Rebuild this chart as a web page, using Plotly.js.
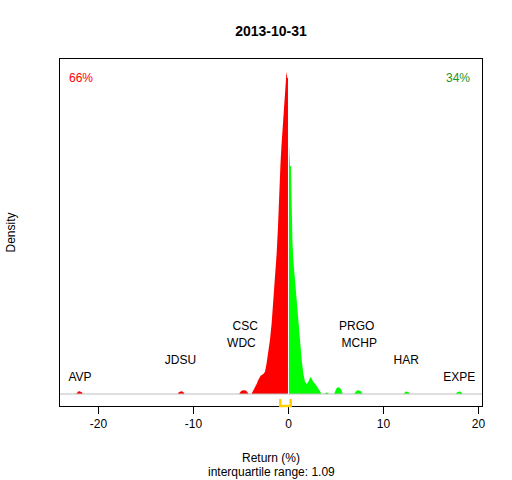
<!DOCTYPE html>
<html><head><meta charset="utf-8">
<script src="https://cdn.plot.ly/plotly-3.0.1.min.js"></script>
<style>body{margin:0;background:#fff}#c{width:512px;height:480px}</style>
</head><body><div id="c"></div><script>
const chartTitle = "2013-10-31";
const xAxisTitle = "Return (%)";
const yAxisTitle = "Density";
const iqrText = "interquartile range: 1.09";
const shareDown = "66%";
const shareUp = "34%";
const tickVals = [-20, -10, 0, 10, 20];
const tickText = ["-20", "-10", "0", "10", "20"];

// density (left of zero, red)
const redX = [-22.35,-22.25,-22.14,-22.0,-21.86,-21.75,-21.65,
  -11.65,-11.55,-11.44,-11.3,-11.16,-11.05,-10.95,
  -5.2,-5.05,-4.9,-4.7,-4.5,-4.35,-4.2,
  -3.9,-3.7,-3.53,-3.35,-3.18,
  -2.93,-2.65,-2.47,-2.3,-2.12,-1.95,-1.77,-1.6,-1.42,-1.25,
  -1.1,-0.98,-0.84,-0.74,-0.63,-0.53,-0.42,-0.32,-0.21,-0.12,0];
const redY = [0,0.0017,0.0025,0.0028,0.0025,0.0017,0,
  0,0.0017,0.0025,0.0028,0.0025,0.0017,0,
  0,0.0023,0.0034,0.0038,0.0034,0.0023,0,
  0,0.0033,0.0067,0.010,0.014,
  0.0183,0.020,0.0223,0.031,0.041,0.054,0.071,0.0907,0.114,0.14,
  0.168,0.207,0.2307,0.248,0.2623,0.2823,0.298,0.310,0.3223,0.316,0.316];

// density (right of zero, green)
const greenX = [0.03,0.16,0.26,0.3,0.36,0.42,0.51,0.68,0.86,1.03,
  1.21,1.39,1.56,1.74,1.92,2.08,2.33,2.61,2.9,3.14,
  3.32,3.5,
  3.75,3.85,4.0,4.15,4.25,
  4.8,4.93,5.07,5.25,5.43,5.57,5.7,
  6.9,7.03,7.17,7.35,7.53,7.67,7.8,
  12.12,12.21,12.31,12.44,12.57,12.67,12.76,
  17.6,17.72,17.83,17.98,18.13,18.24,18.36];
const greenY = [0.254,0.228,0.228,0.203,0.203,0.151,0.134,0.114,0.0973,0.0773,
  0.054,0.034,0.0207,0.0123,0.010,0.0123,0.0173,0.0123,0.009,0.0057,
  0.0023,0,
  0,0.001,0.0015,0.001,0,
  0,0.004,0.006,0.0067,0.006,0.004,0,
  0,0.0022,0.0033,0.0037,0.0033,0.0022,0,
  0,0.0015,0.0023,0.0025,0.0023,0.0015,0,
  0,0.0015,0.0023,0.0025,0.0023,0.0015,0];

// outlier labels
const labelNames = ["AVP","JDSU","WDC","CSC","PRGO","MCHP","HAR","EXPE"];
const labelReturns = [-21.95,-11.37,-4.95,-4.56,7.18,7.45,12.4,17.98];
const labelLevels = [1,2,3,4,4,3,2,1];

const quartiles = [-0.86, 0.23];

const FONT = "Liberation Sans, Arial, sans-serif";
const levelStep = 0.017, levelBase = -0.001;

const traces = [
  {x: redX, y: redY, type: 'scatter', mode: 'lines', fill: 'tozeroy',
   fillcolor: '#FF0000', line: {width: 0, color: '#FF0000'}, hoverinfo: 'skip'},
  {x: greenX, y: greenY, type: 'scatter', mode: 'lines', fill: 'tozeroy',
   fillcolor: '#00FF00', line: {width: 0, color: '#00FF00'}, hoverinfo: 'skip'},
  {x: labelReturns, y: labelLevels.map(l => levelBase + l * levelStep),
   text: labelNames, type: 'scatter', mode: 'text', textposition: 'middle center',
   textfont: {family: FONT, size: 12, color: '#000'}, hoverinfo: 'skip', cliponaxis: false}
];

const q1 = quartiles[0], q3 = quartiles[1];
const bh = 7 / 347;

const layout = {
  width: 512, height: 480,
  margin: {l: 60, r: 30, t: 59, b: 74, pad: 0, autoexpand: false},
  paper_bgcolor: '#fff', plot_bgcolor: '#fff',
  showlegend: false, hovermode: false,
  font: {family: FONT, size: 12, color: '#000'},
  title: {text: chartTitle, font: {family: FONT, size: 14, weight: 'bold', color: '#000'},
          x: 0.5, xref: 'paper', xanchor: 'center', y: 1 - 31/480, yref: 'container', yanchor: 'middle'},
  xaxis: {range: [-24.05, 20.37], showgrid: false, zeroline: false,
          showline: true, linecolor: '#000', linewidth: 1, mirror: true,
          ticks: 'outside', ticklen: 7, tickwidth: 1, tickcolor: '#000',
          tickvals: tickVals, ticktext: tickText,
          tickfont: {family: FONT, size: 12, color: '#000'}},
  yaxis: {range: [-0.012, 0.335], showgrid: false, zeroline: false,
          showline: true, linecolor: '#000', linewidth: 1, mirror: true,
          ticks: '', showticklabels: false},
  shapes: [
    {type: 'line', xref: 'paper', yref: 'y', x0: 0, x1: 1, y0: 0, y1: 0,
     line: {color: '#BEBEBE', width: 1}, layer: 'above'},
    {type: 'line', xref: 'x', yref: 'y', x0: 0, x1: 0, y0: 0, y1: 0.33,
     line: {color: '#FFFFFF', width: 1}, layer: 'above'},
    {type: 'path', xref: 'x', yref: 'paper',
     path: `M ${q1},${bh} L ${q1},0 L ${q3},0 L ${q3},${bh}`,
     line: {color: '#FFD000', width: 2.5}, layer: 'above'}
  ],
  annotations: [
    {text: shareDown, xref: 'paper', yref: 'paper', x: 0, y: 1, xanchor: 'left', yanchor: 'middle',
     xshift: 7, yshift: -19, showarrow: false, font: {family: FONT, size: 12, color: '#FF0000'}},
    {text: shareUp, xref: 'paper', yref: 'paper', x: 1, y: 1, xanchor: 'right', yanchor: 'middle',
     xshift: -10, yshift: -19, showarrow: false, font: {family: FONT, size: 12, color: '#1E961E'}},
    {text: yAxisTitle, xref: 'paper', yref: 'paper', x: 0, y: 0.5, xanchor: 'center', yanchor: 'middle',
     xshift: -50, textangle: -90, showarrow: false, font: {family: FONT, size: 12, color: '#000'}},
    {text: xAxisTitle, xref: 'paper', yref: 'paper', x: 0.5, y: 0, xanchor: 'center', yanchor: 'middle',
     yshift: -52, showarrow: false, font: {family: FONT, size: 12, color: '#000'}},
    {text: iqrText, xref: 'paper', yref: 'paper', x: 0.5, y: 0, xanchor: 'center', yanchor: 'middle',
     yshift: -66, showarrow: false, font: {family: FONT, size: 12, color: '#000'}}
  ]
};

Plotly.newPlot('c', traces, layout, {staticPlot: true, displayModeBar: false});
</script></body></html>
